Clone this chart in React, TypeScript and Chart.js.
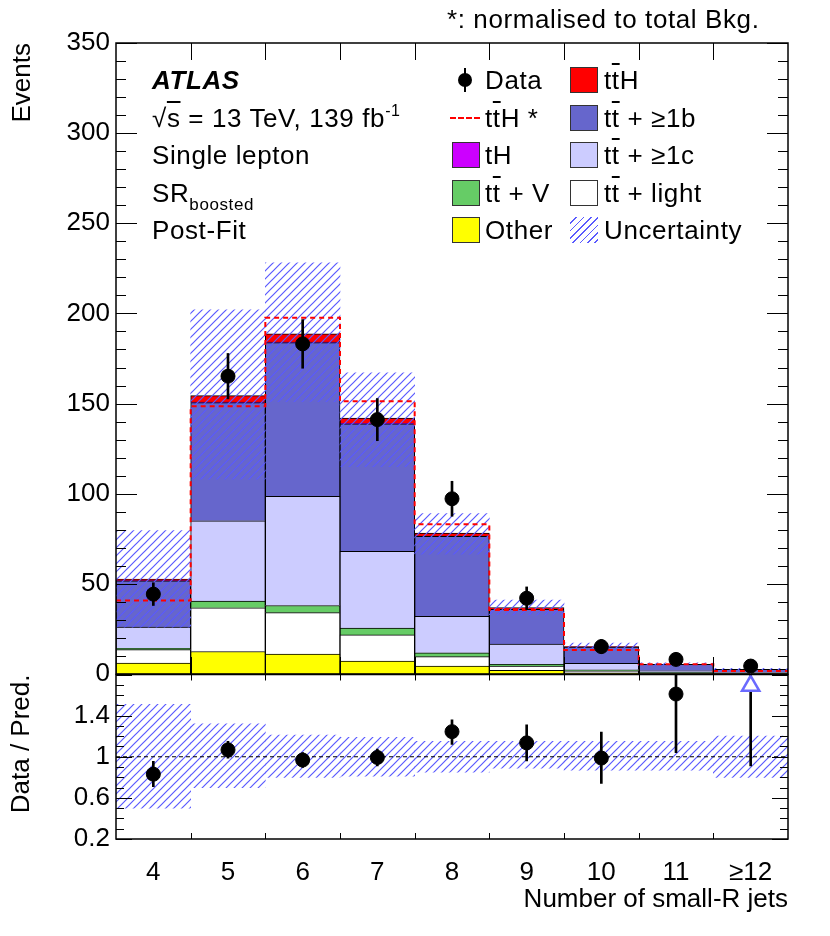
import React, { useEffect, useRef } from "react";
import { Chart, registerables } from "chart.js";

Chart.register(...registerables);

const FONT = "'Liberation Sans', Arial, Helvetica, sans-serif";

const jetBins = [4, 5, 6, 7, 8, 9, 10, 11, 12];
const jetLabels = ["4", "5", "6", "7", "8", "9", "10", "11", "≥12"];

// events per bin
const other = [6, 12.5, 11, 7.2, 4.4, 2, 0.7, 0.2, 0.1];
const ttLight = [7.5, 24.2, 23, 14.5, 5.2, 2.4, 1.1, 0.4, 0.2];
const ttV = [0.8, 3.8, 4, 3.8, 2.2, 1, 0.5, 0.2, 0.1];
const ttC = [11.7, 44.5, 60.5, 42.5, 20.2, 11.2, 3.6, 1.0, 0.4];
const ttB = [25.7, 65.5, 85.3, 70.7, 44.3, 19.3, 9, 3.5, 1.75];
const tH = [0.1, 0.3, 0.3, 0.3, 0.2, 0.1, 0.05, 0.02, 0.01];
const ttH = [0.9, 3.6, 4.6, 3.0, 1.7, 0.8, 0.3, 0.1, 0.05];
const ttHNorm = [40.7, 148.5, 197.6, 151.3, 83, 35.5, 13.3, 5.4, 1.7];
const uncLow = [26, 108, 151, 115, 66.5, 32.8, 13.2, 4.7, 2.1];
const uncHigh = [79.6, 202, 228, 167, 89, 41, 17.2, 6.2, 3.1];
const dataVals = [44.3, 165.2, 183.1, 141.1, 97.2, 42, 15.2, 8.1, 4.4];
const dataErr = [6.3, 12.6, 13.5, 11.7, 9.7, 6.3, 3.9, 2.8, 2.1];

// ratio panel
const ratioVals = [0.83, 1.067, 0.968, 0.993, 1.244, 1.135, 0.987, 1.61, null];
const ratioLow = [0.71, 0.985, 0.896, 0.911, 1.12, 0.96, 0.74, 1.04, 0.91];
const ratioHigh = [0.955, 1.149, 1.04, 1.075, 1.36, 1.31, 1.24, 2.1, 2.5];
const ratioUncLow = [0.5, 0.7, 0.8, 0.81, 0.85, 0.89, 0.87, 0.87, 0.8];
const ratioUncHigh = [1.51, 1.32, 1.21, 1.19, 1.15, 1.15, 1.15, 1.15, 1.2];
const ratioArrow = [null, null, null, null, null, null, null, null, 1.69];

const mainTicks = [0, 50, 100, 150, 200, 250, 300, 350];
const ratioTicks = [0.2, 0.6, 1, 1.4];

const pts = (vals: (number | null)[]) => jetBins.map((x, i) => ({ x, y: vals[i] }));
const edges = [...jetBins.map((b) => b - 0.5), jetBins[jetBins.length - 1] + 0.5];

const HATCH = "#5a5aff";

function hatch() {
  const c = document.createElement("canvas");
  c.width = 8;
  c.height = 8;
  const g = c.getContext("2d");
  if (!g) return "rgba(100,100,255,0.4)";
  g.strokeStyle = HATCH;
  g.lineWidth = 1.2;
  g.beginPath();
  g.moveTo(0, 8);
  g.lineTo(8, 0);
  g.moveTo(-1, 1);
  g.lineTo(1, -1);
  g.moveTo(7, 9);
  g.lineTo(9, 7);
  g.stroke();
  return g.createPattern(c, "repeat") as CanvasPattern;
}

interface TickCfg {
  yMajor: number[];
  yMinor: number[];
  major: number;
  minor: number;
  xTop: number;
  xBottom: number;
}

// ROOT-style frame with inward ticks
const frameTicks = (cfg: TickCfg) => ({
  id: "frameTicks",
  afterDatasetsDraw(chart: any) {
    const { ctx, chartArea: a, scales } = chart;
    const x = scales.x;
    const y = scales.y;
    ctx.save();
    ctx.strokeStyle = "#000";
    ctx.lineWidth = 1;
    ctx.beginPath();
    const hy = (v: number, len: number) => {
      const p = Math.round(y.getPixelForValue(v)) + 0.5;
      ctx.moveTo(a.left, p);
      ctx.lineTo(a.left + len, p);
      ctx.moveTo(a.right, p);
      ctx.lineTo(a.right - len, p);
    };
    cfg.yMajor.forEach((v) => hy(v, cfg.major));
    cfg.yMinor.forEach((v) => hy(v, cfg.minor));
    edges.slice(1, -1).forEach((v) => {
      const p = Math.round(x.getPixelForValue(v)) + 0.5;
      ctx.moveTo(p, a.top);
      ctx.lineTo(p, a.top + cfg.xTop);
      ctx.moveTo(p, a.bottom);
      ctx.lineTo(p, a.bottom - cfg.xBottom);
    });
    ctx.stroke();
    ctx.lineWidth = 1.5;
    ctx.strokeRect(a.left, a.top, a.right - a.left, a.bottom - a.top);
    ctx.restore();
  },
});

const mainMinor: number[] = [];
for (let v = 10; v < 350; v += 10) if (v % 50 !== 0) mainMinor.push(v);
const ratioMajor: number[] = [];
const ratioMinor: number[] = [];
for (let k = 2; k <= 18; k++) (k % 4 === 2 ? ratioMajor : ratioMinor).push(k / 10);

const axisFont = { family: FONT, size: 26 };
const noGrid = { display: false, drawTicks: false };

// pin axis sizes so the plot frames land where the reference has them
const fixSize = (w: number | null, h: number | null) => (s: any) => {
  if (w !== null) s.width = w;
  if (h !== null) s.height = h;
  s.paddingTop = 0;
  s.paddingBottom = 0;
  s.paddingLeft = 0;
  s.paddingRight = 0;
};

const Tb = () => <span style={{ textDecoration: "overline", textDecorationThickness: "1.5px" }}>t</span>;

const Txt = ({ x, y, children, style }: { x: number; y: number; children: React.ReactNode; style?: React.CSSProperties }) => (
  <div
    style={{
      position: "absolute",
      left: x,
      top: y - 15,
      lineHeight: "30px",
      fontSize: 26,
      letterSpacing: "0.6px",
      whiteSpace: "nowrap",
      ...style,
    }}
  >
    {children}
  </div>
);

const Swatch = ({ x, y, color }: { x: number; y: number; color: string }) => (
  <div style={{ position: "absolute", left: x, top: y - 13, width: 26, height: 24, background: color, border: "1px solid #333" }} />
);

const rows = [80, 117.5, 155, 192.5, 230];

export default function App() {
  const mainRef = useRef<HTMLCanvasElement>(null);
  const ratioRef = useRef<HTMLCanvasElement>(null);

  useEffect(() => {
    if (!mainRef.current || !ratioRef.current) return;
    const pattern = hatch();

    const stackDs = (label: string, vals: number[], color: string, order: number) => ({
      type: "bar" as const,
      label,
      data: pts(vals),
      backgroundColor: color,
      borderColor: "#000",
      borderWidth: 1,
      grouped: false,
      barPercentage: 1,
      categoryPercentage: 1,
      stack: "bkg",
      order,
    });

    const main = new Chart(mainRef.current, {
      type: "bar",
      data: {
        datasets: [
          {
            type: "line",
            label: "Data",
            data: pts(dataVals),
            showLine: false,
            pointRadius: 7,
            pointBackgroundColor: "#000",
            pointBorderColor: "#000",
            stack: "data",
            order: 0,
          },
          {
            type: "bar",
            label: "Data err",
            data: jetBins.map((x, i) => ({ x, y: [dataVals[i] - dataErr[i], dataVals[i] + dataErr[i]] })),
            backgroundColor: "#000",
            barThickness: 2,
            grouped: false,
            stack: "err",
            order: 1,
          },
          {
            type: "line",
            label: "ttH *",
            data: edges.map((x, i) => ({ x, y: ttHNorm[Math.min(i, ttHNorm.length - 1)] })),
            stepped: true,
            borderColor: "#ff0000",
            borderWidth: 2,
            borderDash: [5, 4],
            pointRadius: 0,
            fill: false,
            stack: "star",
            order: 2,
          },
          {
            type: "bar",
            label: "Uncertainty",
            data: jetBins.map((x, i) => ({ x, y: [uncLow[i], uncHigh[i]] })),
            backgroundColor: pattern,
            borderWidth: 0,
            grouped: false,
            barPercentage: 1,
            categoryPercentage: 1,
            stack: "unc",
            order: 3,
          },
          stackDs("Other", other, "#ffff00", 4),
          stackDs("tt + light", ttLight, "#ffffff", 5),
          stackDs("tt + V", ttV, "#66cc66", 6),
          stackDs("tt + ≥1c", ttC, "#ccccff", 7),
          stackDs("tt + ≥1b", ttB, "#6666cc", 8),
          stackDs("tH", tH, "#cc00ff", 9),
          stackDs("ttH", ttH, "#ff0000", 10),
        ] as any,
      },
      options: {
        animation: false,
        responsive: false,
        events: [],
        layout: { padding: { top: 43, right: 42, left: 0, bottom: 0 } },
        plugins: { legend: { display: false }, tooltip: { enabled: false } },
        scales: {
          x: {
            type: "linear",
            min: 3.5,
            max: 12.5,
            offset: false,
            afterBuildTicks: (s: any) => {
              s.ticks = jetBins.map((v) => ({ value: v }));
            },
            ticks: { display: false },
            grid: noGrid,
            border: { display: false },
            afterFit: fixSize(null, 26),
          },
          y: {
            stacked: true,
            min: 0,
            max: 350,
            afterBuildTicks: (s: any) => {
              s.ticks = mainTicks.map((v) => ({ value: v }));
            },
            ticks: { padding: 6, color: "#000", font: axisFont },
            grid: noGrid,
            border: { display: false },
            title: { display: true, text: "Events", align: "end", color: "#000", font: axisFont, padding: { top: 7, bottom: 0 } },
            afterFit: fixSize(116, null),
          },
        },
      },
      plugins: [frameTicks({ yMajor: mainTicks, yMinor: mainMinor, major: 21, minor: 10, xTop: 17, xBottom: 17 })],
    });

    const ratio = new Chart(ratioRef.current, {
      type: "bar",
      data: {
        datasets: [
          {
            type: "line",
            label: "Ratio",
            data: pts(ratioVals),
            showLine: false,
            pointRadius: 7,
            pointBackgroundColor: "#000",
            pointBorderColor: "#000",
            order: 0,
          },
          {
            type: "line",
            label: "Off scale",
            data: pts(ratioArrow),
            showLine: false,
            pointStyle: "triangle",
            pointRadius: 10,
            pointBackgroundColor: "#ffffff",
            pointBorderColor: "#6a6aff",
            pointBorderWidth: 2.5,
            clip: false,
            order: 1,
          },
          {
            type: "bar",
            label: "Ratio err",
            data: jetBins.map((x, i) => ({ x, y: [ratioLow[i], ratioHigh[i]] })),
            backgroundColor: "#000",
            barThickness: 2,
            grouped: false,
            order: 2,
          },
          {
            type: "line",
            label: "Unity",
            data: [
              { x: edges[0], y: 1 },
              { x: edges[edges.length - 1], y: 1 },
            ],
            borderColor: "#000",
            borderWidth: 1,
            borderDash: [4, 3],
            pointRadius: 0,
            order: 3,
          },
          {
            type: "bar",
            label: "Uncertainty",
            data: jetBins.map((x, i) => ({ x, y: [ratioUncLow[i], ratioUncHigh[i]] })),
            backgroundColor: pattern,
            borderWidth: 0,
            grouped: false,
            barPercentage: 1,
            categoryPercentage: 1,
            order: 4,
          },
        ] as any,
      },
      options: {
        animation: false,
        responsive: false,
        events: [],
        layout: { padding: { top: 12, right: 42, left: 0, bottom: 0 } },
        plugins: { legend: { display: false }, tooltip: { enabled: false } },
        scales: {
          x: {
            type: "linear",
            min: 3.5,
            max: 12.5,
            offset: false,
            afterBuildTicks: (s: any) => {
              s.ticks = jetBins.map((v) => ({ value: v }));
            },
            ticks: {
              callback: (_v: any, i: number) => jetLabels[i],
              padding: 18,
              color: "#000",
              font: axisFont,
              autoSkip: false,
              maxRotation: 0,
            },
            grid: noGrid,
            border: { display: false },
            title: {
              display: true,
              text: "Number of small-R jets",
              align: "end",
              color: "#000",
              font: axisFont,
              padding: { top: 0, bottom: 21 },
            },
            afterFit: fixSize(null, 97),
          },
          y: {
            min: 0.2,
            max: 1.8,
            afterBuildTicks: (s: any) => {
              s.ticks = ratioTicks.map((v) => ({ value: v }));
            },
            ticks: {
              callback: (v: any) => String(Math.round(Number(v) * 10) / 10),
              padding: 6,
              color: "#000",
              font: axisFont,
            },
            grid: noGrid,
            border: { display: false },
            title: { display: true, text: "Data / Pred.", align: "end", color: "#000", font: axisFont, padding: { top: 6, bottom: 0 } },
            afterFit: fixSize(116, null),
          },
        },
      },
      plugins: [frameTicks({ yMajor: ratioMajor, yMinor: ratioMinor, major: 16, minor: 8, xTop: 6, xBottom: 6 })],
    });

    return () => {
      main.destroy();
      ratio.destroy();
    };
  }, []);

  return (
    <div
      style={{
        position: "absolute",
        left: 0,
        top: 0,
        width: 830,
        height: 936,
        background: "#fff",
        fontFamily: FONT,
        color: "#000",
        overflow: "hidden",
      }}
    >
      <canvas ref={mainRef} width={830} height={700} style={{ position: "absolute", left: 0, top: 0 }} />
      <canvas ref={ratioRef} width={830} height={274} style={{ position: "absolute", left: 0, top: 662 }} />

      <Txt x={447} y={19}>*: normalised to total Bkg.</Txt>

      <Txt x={152} y={rows[0]} style={{ fontWeight: "bold", fontStyle: "italic" }}>
        ATLAS
      </Txt>
      <Txt x={152} y={rows[1]}>
        √<span style={{ textDecoration: "overline" }}>s</span> = 13 TeV, 139 fb
        <span style={{ fontSize: 16, position: "relative", top: -11 }}>-1</span>
      </Txt>
      <Txt x={152} y={rows[2]}>Single lepton</Txt>
      <Txt x={152} y={rows[3]}>
        SR<span style={{ fontSize: 17, position: "relative", top: 8 }}>boosted</span>
      </Txt>
      <Txt x={152} y={rows[4]}>Post-Fit</Txt>

      {/* legend, left column */}
      <div style={{ position: "absolute", left: 464, top: rows[0] - 12, width: 2, height: 24, background: "#000" }} />
      <div style={{ position: "absolute", left: 458, top: rows[0] - 7, width: 14, height: 14, borderRadius: 7, background: "#000" }} />
      <Txt x={485} y={rows[0]}>Data</Txt>
      <div style={{ position: "absolute", left: 450, top: rows[1] - 1, width: 30, borderTop: "2px dashed #ff0000" }} />
      <Txt x={485} y={rows[1]}>
        t<Tb />H *
      </Txt>
      <Swatch x={452} y={rows[2]} color="#cc00ff" />
      <Txt x={485} y={rows[2]}>tH</Txt>
      <Swatch x={452} y={rows[3]} color="#66cc66" />
      <Txt x={485} y={rows[3]}>
        t<Tb /> + V
      </Txt>
      <Swatch x={452} y={rows[4]} color="#ffff00" />
      <Txt x={485} y={rows[4]}>Other</Txt>

      {/* legend, right column */}
      <Swatch x={570} y={rows[0]} color="#ff0000" />
      <Txt x={604} y={rows[0]}>
        t<Tb />H
      </Txt>
      <Swatch x={570} y={rows[1]} color="#6666cc" />
      <Txt x={604} y={rows[1]}>
        t<Tb /> + ≥1b
      </Txt>
      <Swatch x={570} y={rows[2]} color="#ccccff" />
      <Txt x={604} y={rows[2]}>
        t<Tb /> + ≥1c
      </Txt>
      <Swatch x={570} y={rows[3]} color="#ffffff" />
      <Txt x={604} y={rows[3]}>
        t<Tb /> + light
      </Txt>
      <div
        style={{
          position: "absolute",
          left: 570,
          top: rows[4] - 13,
          width: 28,
          height: 26,
          background: `repeating-linear-gradient(135deg, transparent 0px, transparent 4px, ${HATCH} 4px, ${HATCH} 5.2px)`,
        }}
      />
      <Txt x={604} y={rows[4]}>Uncertainty</Txt>
    </div>
  );
}
